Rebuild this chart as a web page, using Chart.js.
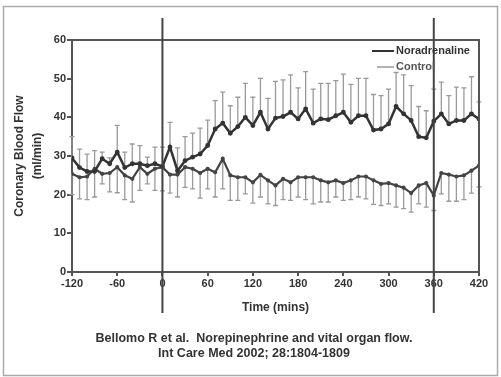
<!DOCTYPE html>
<html>
<head>
<meta charset="utf-8">
<script src="https://cdn.jsdelivr.net/npm/chart.js@4.4.1/dist/chart.umd.min.js"></script>
<style>
  html, body { margin: 0; padding: 0; background: #fff; }
  #wrap { position: relative; width: 501px; height: 377px; }
</style>
</head>
<body>
<div id="wrap"><canvas id="myChart" width="501" height="377"></canvas></div>
<script>
// time points (mins)
const times = [-120,-110,-100,-90,-80,-70,-60,-50,-40,-30,-20,-10,0,10,20,30,40,50,60,70,80,90,100,110,120,130,140,150,160,170,180,190,200,210,220,230,240,250,260,270,280,290,300,310,320,330,340,350,360,370,380,390,400,410,420];

// Noradrenaline mean and top of error bar
const noradMean = [29.5,27,26,26,29.3,28,31,27,28,28,27.5,28,27.3,32.3,26.2,28.8,29.7,30.5,32.7,37,38.5,35.9,37.6,40,37.9,41.3,37,39.8,40.2,41.3,39.6,42.2,38.5,39.6,39.4,40.4,41.3,38.7,40.4,40.4,36.7,37,38.3,42.8,40.9,39.2,35,34.7,39,40.9,38.3,39.2,39.2,40.9,39.6];
const noradUpper = [35,31.8,30.5,31.4,31,29.5,37.9,31,33.1,32.7,29.7,32.3,32.3,38.7,32.1,35,35.9,37.2,39.3,44.3,46.5,43,45.2,48.8,45.2,50.1,44.9,49.3,49.7,51,47.6,51.8,47.3,48.8,48.8,49.5,51.2,48.5,50.1,50.1,45.9,45.6,47.3,51.6,51,48.2,42.8,41.7,47.3,49.1,45.6,47.8,47.6,50.5,44];

// Control mean and bottom of error bar
const controlMean = [25.4,24.5,24.7,26.7,25.4,25.6,27.1,25,24.1,27.1,25.4,26.7,27.1,25.2,25.2,27.1,26.7,25.6,26.7,25.8,29.3,25,24.5,24.5,23.2,25.1,23.7,22.4,24.1,23.2,24.5,24.5,24.5,23.7,23.2,23.7,23,23.7,24.7,24.7,23.7,22.8,23,22.4,21.8,20.4,22.4,23,19.8,25.6,25.2,24.7,25,26.2,27.5];
const controlLower = [20,18.9,18.7,19.4,22.8,20.7,20.5,18.7,18.1,21.1,22.8,21.1,21,20.4,19.4,21.9,21.5,19.1,21.5,19.4,21.5,18.5,18.5,20.2,17.8,19.4,17.6,17.2,18.7,18.5,19.4,18.7,17.6,18.1,18.1,19.4,18.5,18.7,19.4,18.9,17.5,17.2,17.6,16.8,16.4,15.5,17.6,16.8,15.9,20.2,18.3,18.3,18.7,20.4,22];

const xTicks = [-120,-60,0,60,120,180,240,300,360,420];
const yTicks = [0,10,20,30,40,50,60];
const markerTimes = [0,360];

const FONT = "'Liberation Sans', Arial, sans-serif";
const TXT = '#333';

const toPoints = (xs, ys) => xs.map((x, i) => ({x: x, y: ys[i]}));

const errorBars = {
  id: 'errorBars',
  beforeDatasetsDraw(chart) {
    const ctx = chart.ctx;
    const xs = chart.scales.x, ys = chart.scales.y;
    ctx.save();
    ctx.strokeStyle = '#9a9a9a';
    ctx.lineWidth = 1.3;
    const draw = (means, ends) => {
      for (let i = 0; i < times.length; i++) {
        const px = xs.getPixelForValue(times[i]);
        const y0 = ys.getPixelForValue(means[i]);
        const y1 = ys.getPixelForValue(ends[i]);
        ctx.beginPath();
        ctx.moveTo(px, y0); ctx.lineTo(px, y1);
        ctx.moveTo(px - 2.5, y1); ctx.lineTo(px + 2.5, y1);
        ctx.stroke();
      }
    };
    draw(noradMean, noradUpper);
    draw(controlMean, controlLower);
    ctx.restore();
  },
  afterDraw(chart) {
    const ctx = chart.ctx;
    const a = chart.chartArea;
    const xs = chart.scales.x;
    ctx.save();
    // plot box (top + right)
    ctx.strokeStyle = '#555';
    ctx.lineWidth = 2;
    ctx.beginPath();
    ctx.moveTo(a.left, a.top); ctx.lineTo(a.right, a.top); ctx.lineTo(a.right, a.bottom);
    ctx.stroke();
    // vertical markers
    ctx.strokeStyle = '#444';
    ctx.lineWidth = 2;
    markerTimes.forEach(t => {
      const px = xs.getPixelForValue(t);
      ctx.beginPath(); ctx.moveTo(px, 18); ctx.lineTo(px, 313); ctx.stroke();
    });
    // legend
    ctx.font = 'bold 11px ' + FONT;
    ctx.textBaseline = 'middle';
    ctx.fillStyle = TXT;
    ctx.strokeStyle = '#333'; ctx.lineWidth = 2;
    ctx.beginPath(); ctx.moveTo(372, 51); ctx.lineTo(394, 51); ctx.stroke();
    ctx.fillText(chart.data.datasets[0].label, 396, 51);
    ctx.strokeStyle = '#999'; ctx.lineWidth = 1.5;
    ctx.beginPath(); ctx.moveTo(377, 67); ctx.lineTo(394, 67); ctx.stroke();
    ctx.fillStyle = '#555';
    ctx.fillText(chart.data.datasets[1].label, 396, 67);
    // caption
    ctx.fillStyle = TXT;
    ctx.textAlign = 'center';
    ctx.font = 'bold 12.5px ' + FONT;
    ctx.fillText('Bellomo R et al.  Norepinephrine and vital organ flow.', 254, 339);
    ctx.fillText('Int Care Med 2002; 28:1804-1809', 254, 354);
    // outer frame
    ctx.strokeStyle = '#aaa'; ctx.lineWidth = 1.5;
    ctx.strokeRect(3.5, 6.5, 494, 369);
    ctx.restore();
  }
};

const config = {
  type: 'line',
  data: {
    datasets: [
      {
        label: 'Noradrenaline',
        data: toPoints(times, noradMean),
        borderColor: '#333',
        backgroundColor: '#333',
        borderWidth: 2.5,
        pointRadius: 1.2,
        tension: 0
      },
      {
        label: 'Control',
        data: toPoints(times, controlMean),
        borderColor: '#444',
        backgroundColor: '#444',
        borderWidth: 2.2,
        pointRadius: 1,
        tension: 0
      }
    ]
  },
  options: {
    responsive: false,
    animation: false,
    layout: { padding: { top: 40, right: 22, bottom: 60, left: 0 } },
    plugins: { legend: { display: false }, tooltip: { enabled: false } },
    scales: {
      x: {
        type: 'linear',
        min: -120, max: 420,
        afterFit: s => { s.height = 45; },
        afterBuildTicks: s => { s.ticks = xTicks.map(v => ({value: v})); },
        grid: { drawOnChartArea: false, tickLength: 4, color: '#555', lineWidth: 2 },
        border: { color: '#555', width: 2 },
        ticks: { color: TXT, padding: 1, maxRotation: 0, font: { family: FONT, size: 11, weight: 'bold' } },
        title: { display: true, text: 'Time (mins)', color: TXT, padding: { top: 0, bottom: 2 }, font: { family: FONT, size: 12, weight: 'bold' } }
      },
      y: {
        min: 0, max: 60,
        afterFit: s => { s.width = 72; },
        afterBuildTicks: s => { s.ticks = yTicks.map(v => ({value: v})); },
        grid: { drawOnChartArea: false, tickLength: 5, color: '#555', lineWidth: 2 },
        border: { color: '#555', width: 2 },
        ticks: { color: TXT, padding: 1, font: { family: FONT, size: 11, weight: 'bold' } },
        title: { display: true, text: ['Coronary Blood Flow', '(ml/min)'], color: TXT, padding: { top: 10, bottom: 0 }, font: { family: FONT, size: 12, weight: 'bold', lineHeight: 1.55 } }
      }
    }
  },
  plugins: [errorBars]
};

const myChart = new Chart(document.getElementById('myChart'), config);
</script>
</body>
</html>
